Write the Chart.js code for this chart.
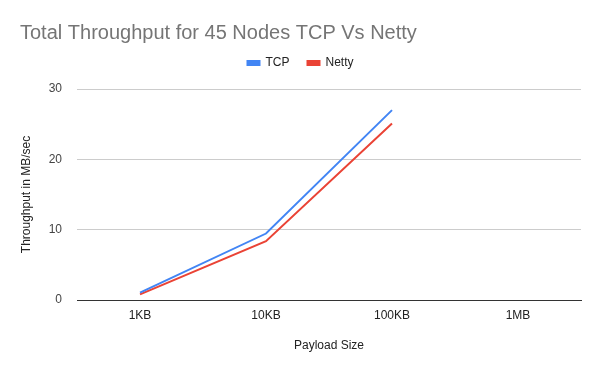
<!DOCTYPE html>
<html>
<head>
<meta charset="utf-8">
<script src="https://cdn.jsdelivr.net/npm/chart.js@4"></script>
<style>
html,body{margin:0;padding:0;background:#fff;}
#wrap{width:600px;height:371px;position:relative;}
</style>
</head>
<body>
<div id="wrap"><canvas id="c" width="600" height="371"></canvas></div>
<script>
const categories = ['1KB', '10KB', '100KB', '1MB'];
const tcpValues = [1.05, 9.45, 27.0, null];
const nettyValues = [0.8, 8.35, 25.1, null];
const yTicks = [0, 10, 20, 30];

const FONT = '"Liberation Sans", Arial, sans-serif';

const legendGap = {
  id: 'legendGap',
  beforeLayout(chart) {
    const lg = chart.legend;
    if (lg && !lg._gapPatched) {
      const orig = lg.fit.bind(lg);
      lg.fit = function () { orig(); this.height += 10; };
      lg._gapPatched = true;
    }
  }
};

new Chart(document.getElementById('c'), {
  type: 'line',
  data: {
    labels: categories,
    datasets: [
      { label: 'TCP', data: tcpValues, borderColor: '#4285F4', backgroundColor: '#4285F4',
        borderWidth: 2, pointRadius: 0, tension: 0, spanGaps: false },
      { label: 'Netty', data: nettyValues, borderColor: '#EA4335', backgroundColor: '#EA4335',
        borderWidth: 2, pointRadius: 0, tension: 0, spanGaps: false }
    ]
  },
  options: {
    responsive: false,
    animation: false,
    devicePixelRatio: 1,
    layout: { padding: { top: 0, left: 20, right: 19, bottom: 0 } },
    plugins: {
      title: {
        display: true,
        text: 'Total Throughput for 45 Nodes TCP Vs Netty',
        align: 'start',
        color: '#757575',
        font: { family: FONT, size: 20, weight: 'normal' },
        padding: { top: 21, bottom: -6 }
      },
      legend: {
        display: true,
        position: 'top',
        align: 'center',
        labels: {
          boxWidth: 12,
          boxHeight: 4,
          padding: 18,
          color: '#222',
          font: { family: FONT, size: 12 }
        }
      },
      tooltip: { enabled: false }
    },
    scales: {
      x: {
        offset: true,
        grid: { display: false, drawTicks: false },
        border: { display: true, color: '#333', width: 1 },
        ticks: { color: '#222', font: { family: FONT, size: 12 }, padding: 8, maxRotation: 0 },
        title: { display: true, text: 'Payload Size', color: '#222',
                 font: { family: FONT, size: 12 }, padding: { top: 0, bottom: 18 } },
        afterFit(scale) { scale.height = 71; }
      },
      y: {
        min: 0,
        max: 30,
        afterBuildTicks(scale) { scale.ticks = yTicks.map(v => ({ value: v })); },
        grid: {
          drawTicks: false,
          color: ctx => (ctx.tick && ctx.tick.value === 0) ? '#333' : '#cccccc',
          lineWidth: 1
        },
        border: { display: false },
        ticks: { color: '#444', font: { family: FONT, size: 12 }, padding: 15 },
        title: { display: true, text: 'Throughput in MB/sec', color: '#222',
                 font: { family: FONT, size: 12 }, padding: { top: -1, bottom: 0 } },
        afterFit(scale) { scale.width = 57; }
      }
    }
  },
  plugins: [legendGap]
});
</script>
</body>
</html>
